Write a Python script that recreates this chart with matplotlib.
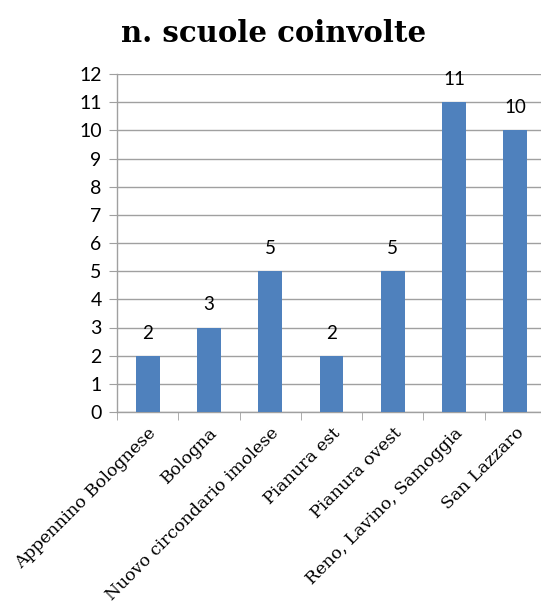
import matplotlib
matplotlib.use("Agg")
import matplotlib.pyplot as plt
import numpy as np

categories = ["Appennino Bolognese", "Bologna", "Nuovo circondario imolese",
              "Pianura est", "Pianura ovest", "Reno, Lavino, Samoggia", "San Lazzaro"]
values = [2, 3, 5, 2, 5, 11, 10]
title = "n. scuole coinvolte"

sans = ['Lato', 'DejaVu Sans']
serif = ['DejaVu Serif']

fig = plt.figure(figsize=(5.41, 6.02), dpi=100)
L, R, B, T = 117, 546, 412, 74
ax = fig.add_axes([L/541, 1-B/602, (R-L)/541, (B-T)/602])

x = np.arange(len(categories))
ax.bar(x, values, width=0.39, color="#4F81BD", zorder=3)
for xi, v in zip(x, values):
    ax.text(xi, v + 0.5, str(v), ha="center", va="bottom", fontsize=13.5,
            family=sans, color="#000000")

ax.set_xlim(-0.5, len(categories) - 0.5)
ax.set_ylim(0, 12)
ax.set_yticks(range(0, 13))
ax.set_yticklabels([str(i) for i in range(0, 13)], family=sans, fontsize=14)
ax.tick_params(axis='y', length=6, color="#A0A0A0", pad=5)
ax.yaxis.grid(True, color="#A0A0A0", linewidth=1.0, zorder=0)
ax.set_axisbelow(True)

ax.set_xticks(x)
ax.set_xticklabels(categories, rotation=45, ha="right", rotation_mode="anchor",
                   fontsize=12.5, family=serif)
ax.tick_params(axis='x', which='major', length=0, pad=9)
ax.set_xticks(np.arange(-0.5, len(categories)), minor=True)
ax.tick_params(axis='x', which='minor', length=6, color="#A0A0A0")

for s in ["top", "right"]:
    ax.spines[s].set_visible(False)
for s in ["left", "bottom"]:
    ax.spines[s].set_color("#A0A0A0")
    ax.spines[s].set_linewidth(1.0)

fig.text(274/541, 1-33/602, title, ha="center", va="center", fontsize=21,
         fontweight="bold", family=serif)

fig.savefig("out.png", dpi=100)
